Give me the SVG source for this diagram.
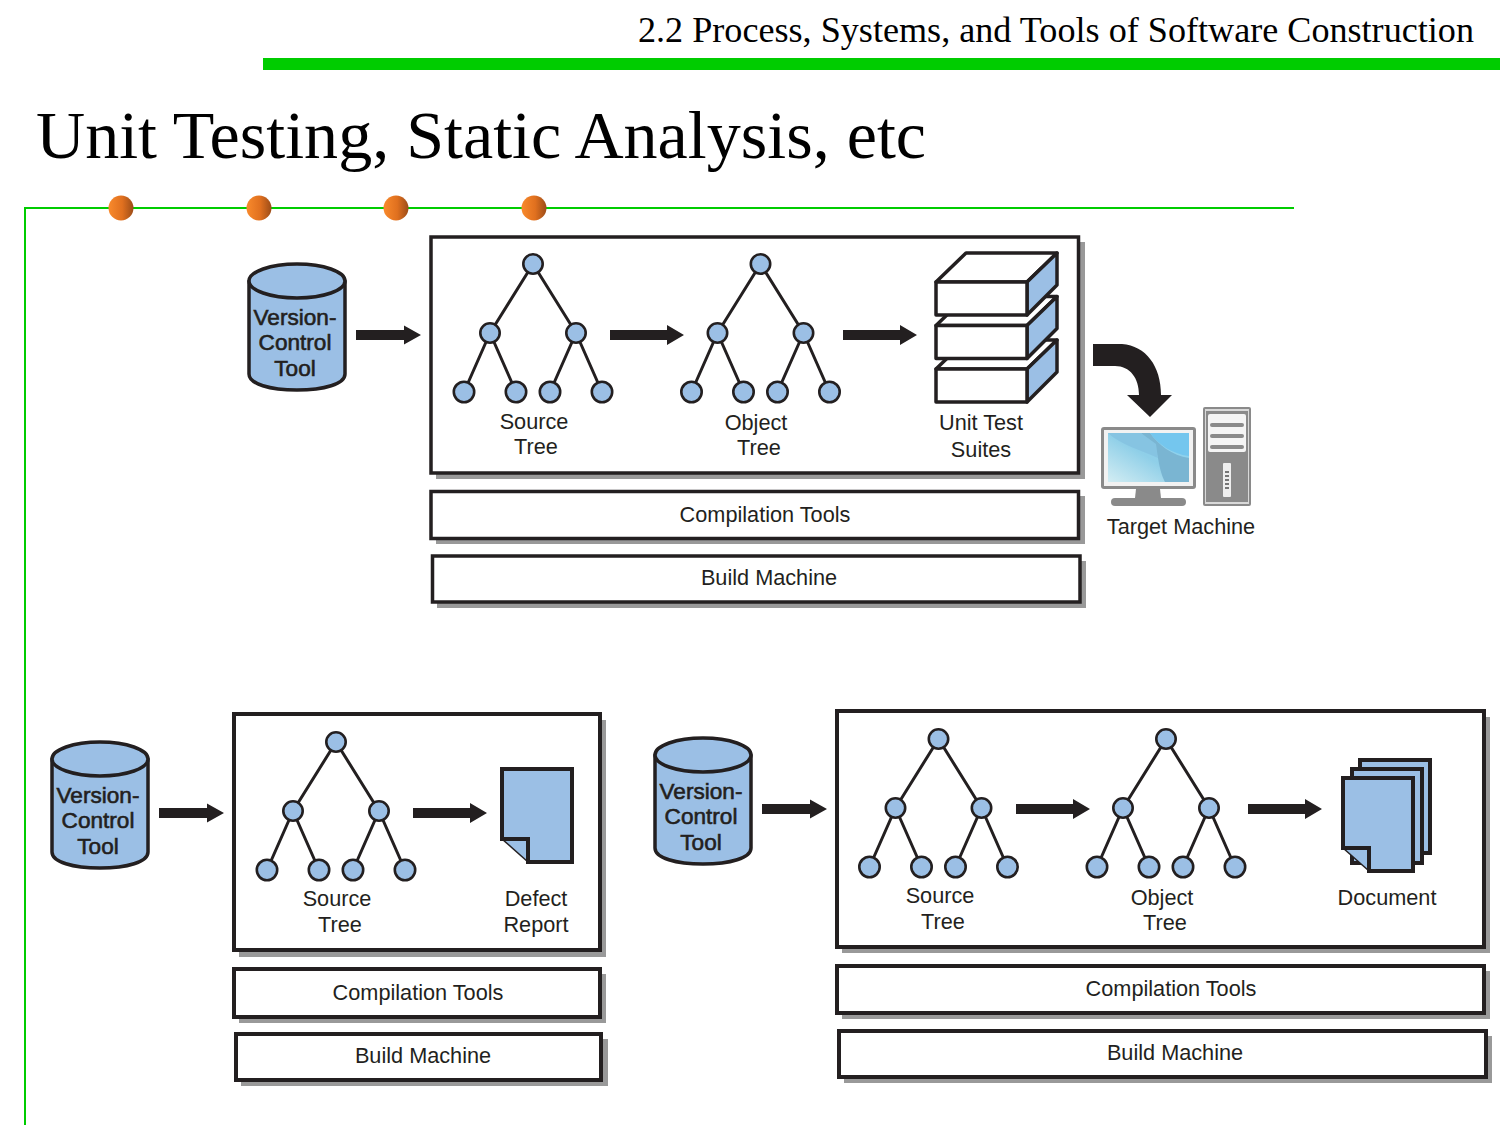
<svg xmlns="http://www.w3.org/2000/svg" width="1500" height="1125" viewBox="0 0 1500 1125">
<style>
text{font-family:"Liberation Sans",Arial,sans-serif;font-size:21.7px;fill:#231f20;text-anchor:middle}
.serif{font-family:"Liberation Serif","Times New Roman",serif;fill:#000;text-anchor:start}
.cyl{font-size:22.6px;stroke:#231f20;stroke-width:.6}
.box{fill:#fff;stroke:#231f20;stroke-width:3.5}
.thick{stroke-width:4}
.shadow{fill:#999}
.blue{fill:#9bbfe5;stroke:#231f20;stroke-width:3.5;stroke-linejoin:round}
.node{fill:#9bbfe5;stroke:#231f20;stroke-width:2.6}
.page{fill:#9bbfe5;stroke:#231f20;stroke-width:4}
.fill{fill:#9bbfe5}
.edge{fill:none;stroke:#231f20;stroke-width:4;stroke-linecap:square}
.link{stroke:#231f20;stroke-width:3;fill:none}
.white{fill:#fff;stroke:#231f20;stroke-width:3.5;stroke-linejoin:round}
.grey{fill:#8a8a8a}
</style>
<defs>
<linearGradient id="ball" x1="0" x2="1" y1="0" y2="0"><stop offset="0" stop-color="#f98a2c"/><stop offset=".55" stop-color="#e0701f"/><stop offset="1" stop-color="#9c4c18"/></linearGradient>
<linearGradient id="screen" x1="0" x2="1" y1="1" y2="0"><stop offset="0" stop-color="#d3edf3"/><stop offset=".5" stop-color="#8fcfe8"/><stop offset="1" stop-color="#8ed4f2"/></linearGradient>
<g id="tree">
<path class="link" d="M0 0L-43 69M0 0L43 69M-43 69L-69 128M-43 69L-17 128M43 69L17 128M43 69L69 128"/>
<circle class="node" cx="0" cy="0" r="9.7"/><circle class="node" cx="-43" cy="69" r="9.7"/><circle class="node" cx="43" cy="69" r="9.7"/>
<circle class="node" cx="-69" cy="128" r="10.2"/><circle class="node" cx="-17" cy="128" r="10.2"/><circle class="node" cx="17" cy="128" r="10.2"/><circle class="node" cx="69" cy="128" r="10.2"/>
</g>
<g id="cylinder">
<path class="blue" d="M0 18V111C0 121 21 127 48 127S96 121 96 111V18Z"/>
<ellipse class="blue" cx="48" cy="18" rx="48" ry="17"/>
</g>
<path id="arrow" fill="#231f20" d="M0 -5H48V-9.500L65 0L48 9.500V5H0Z"/>
<path id="arrowlong" fill="#231f20" d="M0 -5H57V-10L74 0L57 10V5H0Z"/>
<g id="block">
<path class="white" d="M936 282L966 253H1057L1027 282Z"/>
<path class="blue" d="M1027 282L1057 253V285L1027 315Z"/>
<rect class="white" x="936" y="282" width="91" height="33"/>
</g>
<g id="sheet">
<path class="fill" d="M0 0H70V93H26L0 70Z"/>
<path class="edge" d="M0 70V0H70V93H26"/>
<path class="edge" d="M0 70H26V93"/>
<path d="M0 70L26 93" stroke="#231f20" stroke-width="1.500" fill="none"/>
</g>
</defs>
<rect width="1500" height="1125" fill="#fff"/>

<g id="header">
<rect x="263" y="58" width="1237" height="12" fill="#00cc00"/>
<text class="serif" x="638" y="42" style="font-size:35px" textLength="836" lengthAdjust="spacingAndGlyphs">2.2 Process, Systems, and Tools of Software Construction</text>
<text class="serif" x="36" y="158" style="font-size:68px" textLength="890" lengthAdjust="spacingAndGlyphs">Unit Testing, Static Analysis, etc</text>
<path d="M1294 208H25V1125" fill="none" stroke="#00cc00" stroke-width="2"/>
<circle cx="121" cy="208" r="12.500" fill="url(#ball)"/>
<circle cx="259" cy="208" r="12.500" fill="url(#ball)"/>
<circle cx="396" cy="208" r="12.500" fill="url(#ball)"/>
<circle cx="534" cy="208" r="12.500" fill="url(#ball)"/>
</g>

<g id="top-vc">
<use href="#cylinder" x="249" y="263"/>
<text class="cyl" x="295" y="325">Version-</text><text class="cyl" x="295" y="350">Control</text><text class="cyl" x="295" y="376">Tool</text>
</g>
<g id="top-main">
<rect class="shadow" x="436" y="242" width="649" height="237"/>
<rect class="box" x="431" y="237" width="647.500" height="236"/>
</g>
<g id="top-source"><use href="#tree" x="533" y="264"/><text x="534" y="429">Source</text><text x="536" y="454">Tree</text></g>
<g id="top-object"><use href="#tree" x="760.500" y="264"/><text x="756" y="430">Object</text><text x="759" y="455">Tree</text></g>
<g id="top-tests">
<use href="#block" y="87"/><use href="#block" y="43.500"/><use href="#block"/>
<text x="981" y="430">Unit Test</text><text x="981" y="457">Suites</text>
</g>
<g id="top-compile">
<rect class="shadow" x="436" y="496" width="649" height="48"/>
<rect class="box" x="431" y="491.500" width="647.500" height="47"/>
<text x="765" y="522">Compilation Tools</text>
</g>
<g id="top-build">
<rect class="shadow" x="437" y="561" width="649" height="47"/>
<rect class="box" x="432.500" y="556" width="647.500" height="46"/>
<text x="769" y="585">Build Machine</text>
</g>
<g id="target">
<rect x="1101" y="427" width="95" height="62" rx="3" fill="#8a8a8a"/>
<rect x="1104" y="430" width="89" height="56" fill="#f2f2f2"/>
<rect x="1108" y="433" width="81" height="49" fill="url(#screen)"/>
<path d="M1141 433C1150 444 1156 448 1158 458C1160 470 1162 476 1165 482H1189V458C1172 456 1158 444 1150 433Z" fill="#7ab5d2"/>
<path d="M1108 433C1120 444 1140 450 1158 458L1156 444L1141 433Z" fill="#86c4e2"/>
<path d="M1145 433L1189 433V456C1172 454 1158 444 1150 433Z" fill="#74c6ee"/>
<path class="grey" d="M1136 489H1160L1161 498H1135Z"/>
<rect x="1111" y="498" width="75" height="8" rx="4" fill="#8a8a8a"/>
<rect x="1203" y="407" width="48" height="99" rx="2" fill="#8a8a8a"/>
<rect x="1205" y="409" width="44" height="95" fill="#d9d9d9"/>
<rect x="1206" y="411" width="42" height="91" fill="#8a8a8a"/>
<rect x="1208" y="414" width="38" height="38" rx="2" fill="#f4f4f4"/>
<rect class="grey" x="1210" y="423" width="34" height="4" rx="2"/>
<rect class="grey" x="1210" y="434" width="34" height="4" rx="2"/>
<rect class="grey" x="1210" y="445" width="34" height="4" rx="2"/>
<rect x="1223" y="463" width="8" height="34" rx="1" fill="#eee"/>
<path d="M1225 472H1229M1225 476H1229M1225 480H1229M1225 484H1229M1225 488H1229" stroke="#777" stroke-width="2"/>
<text x="1181" y="534">Target Machine</text>
</g>

<g id="left-vc">
<use href="#cylinder" x="52" y="741"/>
<text class="cyl" x="98" y="803">Version-</text><text class="cyl" x="98" y="828">Control</text><text class="cyl" x="98" y="854">Tool</text>
</g>
<g id="left-main">
<rect class="shadow" x="239" y="720" width="367" height="237"/>
<rect class="box thick" x="234" y="714" width="366" height="236"/>
</g>
<g id="left-source"><use href="#tree" x="336" y="742"/><text x="337" y="906">Source</text><text x="340" y="932">Tree</text></g>
<g id="left-defect"><use href="#sheet" x="502" y="769"/><text x="536" y="906">Defect</text><text x="536" y="932">Report</text></g>
<g id="left-compile">
<rect class="shadow" x="239" y="974" width="367" height="49"/>
<rect class="box thick" x="234" y="969" width="366" height="48"/>
<text x="418" y="1000">Compilation Tools</text>
</g>
<g id="left-build">
<rect class="shadow" x="241" y="1039" width="367" height="47"/>
<rect class="box thick" x="236" y="1034" width="365" height="46"/>
<text x="423" y="1063">Build Machine</text>
</g>

<g id="right-vc">
<use href="#cylinder" x="655" y="737"/>
<text class="cyl" x="701" y="799">Version-</text><text class="cyl" x="701" y="824">Control</text><text class="cyl" x="701" y="850">Tool</text>
</g>
<g id="right-main">
<rect class="shadow" x="842" y="717" width="648" height="236"/>
<rect class="box thick" x="837" y="711" width="647" height="236"/>
</g>
<g id="right-source"><use href="#tree" x="938.500" y="739"/><text x="940" y="903">Source</text><text x="943" y="929">Tree</text></g>
<g id="right-object"><use href="#tree" x="1166" y="739"/><text x="1162" y="905">Object</text><text x="1165" y="930">Tree</text></g>
<g id="right-document">
<rect class="page" x="1360" y="760" width="70" height="93"/>
<rect class="page" x="1352" y="769" width="70" height="94"/>
<use href="#sheet" x="1343" y="778"/>
<text x="1387" y="905">Document</text>
</g>
<g id="right-compile">
<rect class="shadow" x="842" y="971" width="648" height="48"/>
<rect class="box thick" x="837" y="966" width="647" height="47"/>
<text x="1171" y="996">Compilation Tools</text>
</g>
<g id="right-build">
<rect class="shadow" x="844" y="1036" width="648" height="47"/>
<rect class="box thick" x="839" y="1031" width="647" height="46"/>
<text x="1175" y="1060">Build Machine</text>
</g>

<g id="connectors">
<use href="#arrow" x="356" y="335"/>
<use href="#arrowlong" x="610" y="335"/>
<use href="#arrowlong" x="843" y="335"/>
<path fill="#231f20" d="M1093 344H1122C1146 346 1161 366 1161 395H1172L1150 417L1127 395H1139C1139 378 1130 366 1115 366H1093Z"/>
<use href="#arrow" x="159" y="813"/>
<use href="#arrowlong" x="413" y="813"/>
<use href="#arrow" x="762" y="809"/>
<use href="#arrowlong" x="1016" y="809"/>
<use href="#arrowlong" x="1248" y="809"/>
</g>
</svg>
